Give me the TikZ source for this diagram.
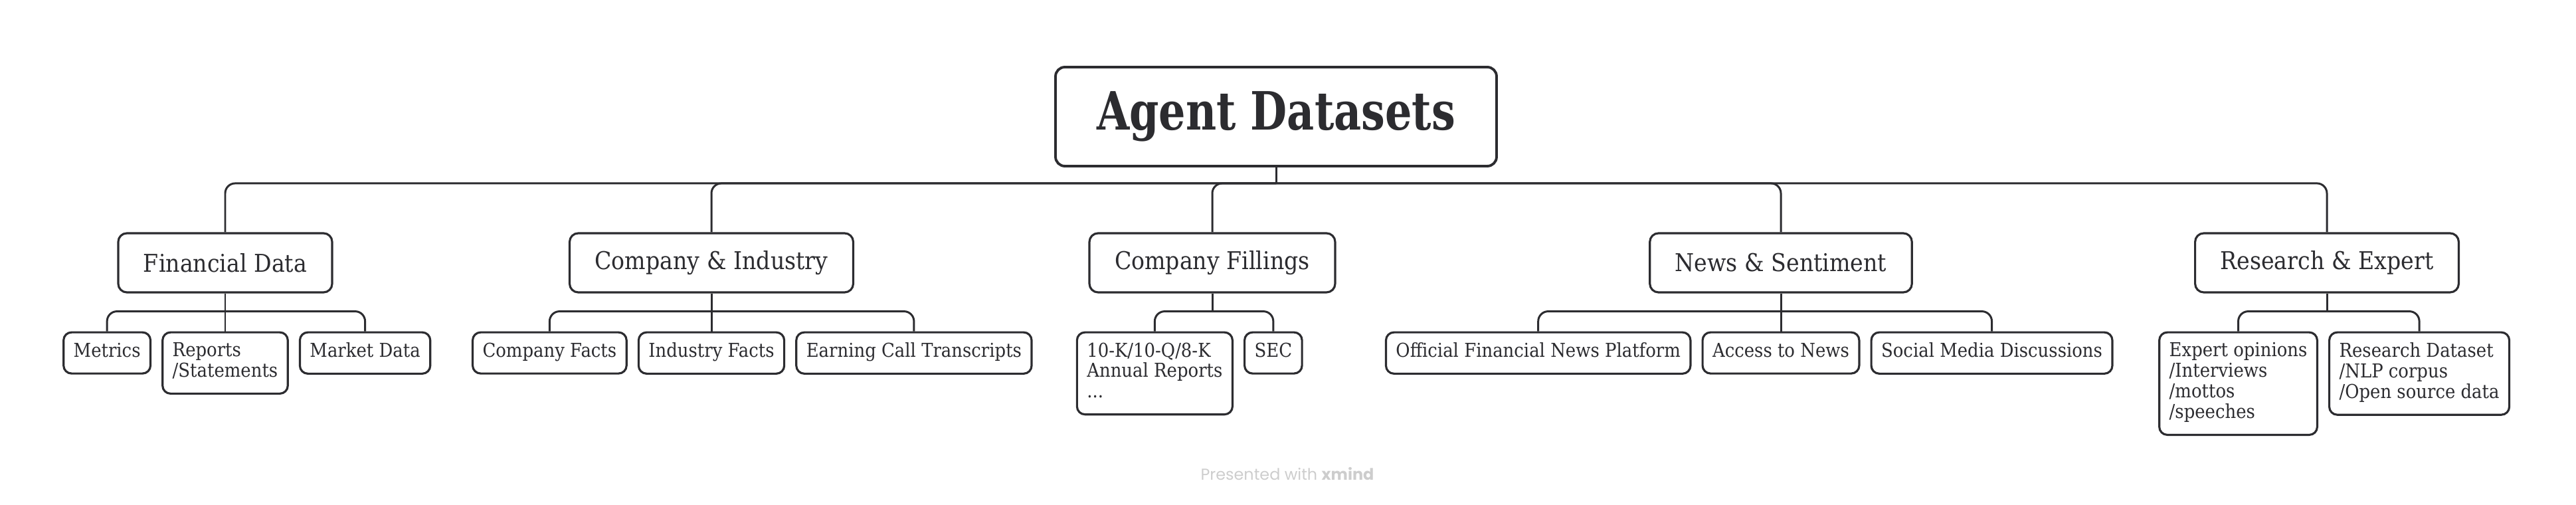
\documentclass[tikz,border=0pt]{standalone}
\usepackage{fontspec}
\setmainfont{DejaVu Serif}[FakeStretch=0.9]
\newfontfamily\titlefont{DejaVu Serif}[FakeStretch=0.8]
\setsansfont{Poppins}
\usetikzlibrary{positioning}
\definecolor{InkGray}{RGB}{44,44,48}
\definecolor{MarkGray}{RGB}{205,205,205}
\tikzset{
  link/.style={draw=InkGray,line width=0.85pt},
  branch/.style={link,rounded corners=0.15cm},
  rootbox/.style={draw=InkGray,line width=1.1pt,fill=white,rounded corners=0.14cm,
    minimum height=1.49cm,inner xsep=0.62cm,text=InkGray,
    font=\titlefont\bfseries\fontsize{22.6}{26}\selectfont},
  topicbox/.style={draw=InkGray,line width=0.9pt,fill=white,rounded corners=0.13cm,
    minimum height=0.89cm,inner xsep=0.38cm,text=InkGray,
    font=\fontsize{10.5}{12.6}\selectfont},
  leafbox/.style={draw=InkGray,line width=0.9pt,fill=white,rounded corners=0.12cm,
    inner xsep=0.15cm,inner ysep=0.155cm,align=left,text=InkGray,
    font=\fontsize{8.2}{8.8}\selectfont,
    execute at begin node=\strut,execute at end node=\strut},
  brandmark/.style={text=MarkGray,font=\sffamily\fontsize{6.8}{8}\selectfont}
}

\begin{document}
\begin{tikzpicture}
  \useasboundingbox (0,0) rectangle (38.78,-7.60);
  % root and main topics
  \node[rootbox] (root) at (19.21,-1.755) {Agent Datasets};
  \node[topicbox] (fin)  at (3.39,-3.955)  {Financial Data};
  \node[topicbox] (comp) at (10.71,-3.955) {Company \& Industry};
  \node[topicbox] (fil)  at (18.25,-3.955) {Company Fillings};
  \node[topicbox] (news) at (26.81,-3.955) {News \& Sentiment};
  \node[topicbox] (res)  at (35.03,-3.955) {Research \& Expert};

  % subtopics
  \node[leafbox,below=0.57cm of fin] (rep) {Reports\\/Statements};
  \node[leafbox,left=0.15cm of rep.north west,anchor=north east] (met) {Metrics};
  \node[leafbox,right=0.15cm of rep.north east,anchor=north west] (mkt) {Market Data};

  \node[leafbox,below=0.57cm of comp] (indf) {Industry Facts};
  \node[leafbox,left=0.15cm of indf.north west,anchor=north east] (compf) {Company Facts};
  \node[leafbox,right=0.15cm of indf.north east,anchor=north west] (ect) {Earning Call Transcripts};

  \node[leafbox,below=0.57cm of fil.south,anchor=north east,xshift=0.32cm] (ten) {10-K/10-Q/8-K\\Annual Reports\\...};
  \node[leafbox,right=0.15cm of ten.north east,anchor=north west] (sec) {SEC};

  \node[leafbox,below=0.57cm of news] (acc) {Access to News};
  \node[leafbox,left=0.15cm of acc.north west,anchor=north east] (ofn) {Official Financial News Platform};
  \node[leafbox,right=0.15cm of acc.north east,anchor=north west] (smd) {Social Media Discussions};

  \node[leafbox,below=0.57cm of res.south,anchor=north east,xshift=-0.13cm] (exp) {Expert opinions\\/Interviews\\/mottos\\/speeches};
  \node[leafbox,right=0.15cm of exp.north east,anchor=north west] (rds) {Research Dataset\\/NLP corpus\\/Open source data};

  % connectors
  \coordinate (hub) at ([yshift=-0.24cm]root.south);
  \draw[link] (root.south) -- (hub);
  \foreach \t in {fin,comp,fil,news,res}
    \draw[branch] (hub) -| (\t.north);

  \foreach \p/\m/\l/\r in {fin/rep/met/mkt,comp/indf/compf/ect,news/acc/ofn/smd} {
    \coordinate (\p hub) at ([yshift=-0.27cm]\p.south);
    \draw[link] (\p.south) -- (\m.north);
    \draw[branch] (\p hub) -| (\l.north);
    \draw[branch] (\p hub) -| (\r.north);
  }
  \foreach \p/\l/\r in {fil/ten/sec,res/exp/rds} {
    \coordinate (\p hub) at ([yshift=-0.27cm]\p.south);
    \draw[link] (\p.south) -- (\p hub);
    \draw[branch] (\p hub) -| (\l.north);
    \draw[branch] (\p hub) -| (\r.north);
  }

  \node[brandmark] (brand) at (19.38,-7.13) {Presented with \textbf{xmind}};
\end{tikzpicture}
\end{document}
